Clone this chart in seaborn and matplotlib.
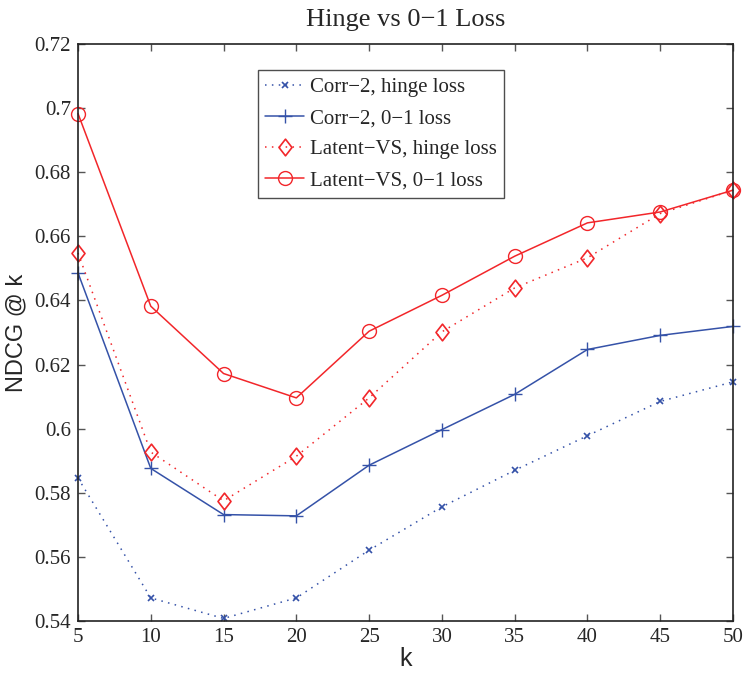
import matplotlib
matplotlib.use("Agg")
import matplotlib.pyplot as plt
import pandas as pd
import seaborn as sns
from matplotlib.path import Path
from matplotlib.ticker import FuncFormatter

# values
k = [5, 10, 15, 20, 25, 30, 35, 40, 45, 50]
corr2_hinge = [0.5846, 0.5472, 0.5408, 0.5472, 0.5621, 0.5756, 0.5870, 0.5978, 0.6085, 0.6146]
corr2_01 = [0.6486, 0.5876, 0.5732, 0.5728, 0.5886, 0.5997, 0.6107, 0.6247, 0.6291, 0.6319]
latent_hinge = [0.6548, 0.5927, 0.5775, 0.5914, 0.6096, 0.6302, 0.6439, 0.6533, 0.6671, 0.6744]
latent_01 = [0.6983, 0.6382, 0.6172, 0.6096, 0.6304, 0.6416, 0.6538, 0.6642, 0.6676, 0.6744]
labels = ["Corr\u22122, hinge loss", "Corr\u22122, 0\u22121 loss",
          "Latent\u2212VS, hinge loss", "Latent\u2212VS, 0\u22121 loss"]

df = pd.DataFrame({"k": k * 4,
                   "ndcg": corr2_hinge + corr2_01 + latent_hinge + latent_01,
                   "series": [s for s in labels for _ in k]})

sns.set_style("ticks")
plt.rcParams["font.family"] = ["Liberation Serif", "DejaVu Serif"]

# MATLAB style diamond (a bit taller than wide)
diamond = Path([(0, 1), (0.78, 0), (0, -1), (-0.78, 0), (0, 1)],
               [Path.MOVETO, Path.LINETO, Path.LINETO, Path.LINETO, Path.CLOSEPOLY])

blue = "#3552A8"
red = "#F2262A"
styles = {
    labels[0]: dict(color=blue, ls=(0, (1, 3.5)), marker="x", ms=4, mew=1.2),
    labels[1]: dict(color=blue, ls="-", marker="+", ms=10, mew=1.0),
    labels[2]: dict(color=red, ls=(0, (1, 3.5)), marker=diamond, ms=12, mew=1.2),
    labels[3]: dict(color=red, ls="-", marker="o", ms=10, mew=1.0),
}

fig = plt.figure(figsize=(7.44, 6.73), dpi=100)
ax = fig.add_axes([78 / 744, 52 / 673, 655 / 744, 577 / 673])

for name in labels:
    st = styles[name]
    sub = df[df["series"] == name]
    sns.lineplot(data=sub, x="k", y="ndcg", ax=ax, label=name,
                 color=st["color"], linestyle=st["ls"], linewidth=1.1,
                 marker=st["marker"], markersize=st["ms"],
                 markerfacecolor="none", markeredgecolor=st["color"],
                 markeredgewidth=st["mew"], clip_on=False)

ax.set_xlim(5, 50)
ax.set_ylim(0.54, 0.72)
ax.set_xticks(k)
ax.set_yticks([0.54, 0.56, 0.58, 0.6, 0.62, 0.64, 0.66, 0.68, 0.7, 0.72])
ax.yaxis.set_major_formatter(FuncFormatter(lambda v, p: f"{v:g}"))
ax.tick_params(direction="in", length=5, width=1, top=True, right=True,
               labelsize=15, color="#555555", pad=5)
for sp in ax.spines.values():
    sp.set_visible(True)
    sp.set_linewidth(1.2)
    sp.set_color("#222222")

ax.set_xlabel("k", fontsize=18, family="Liberation Sans", labelpad=0)
ax.set_ylabel("NDCG @ k", fontsize=17, family="Liberation Sans", labelpad=5)
ax.set_title("Hinge vs 0\u22121 Loss", fontsize=19, pad=13)

leg = ax.legend(loc="upper left", bbox_to_anchor=(0.275, 0.955), fontsize=15,
                frameon=True, fancybox=False, edgecolor="#222222",
                handlelength=1.85, handletextpad=0.3, borderpad=0.35,
                labelspacing=0.56, borderaxespad=0)
leg.get_frame().set_linewidth(1.0)

fig.savefig("out.png", dpi=100)
